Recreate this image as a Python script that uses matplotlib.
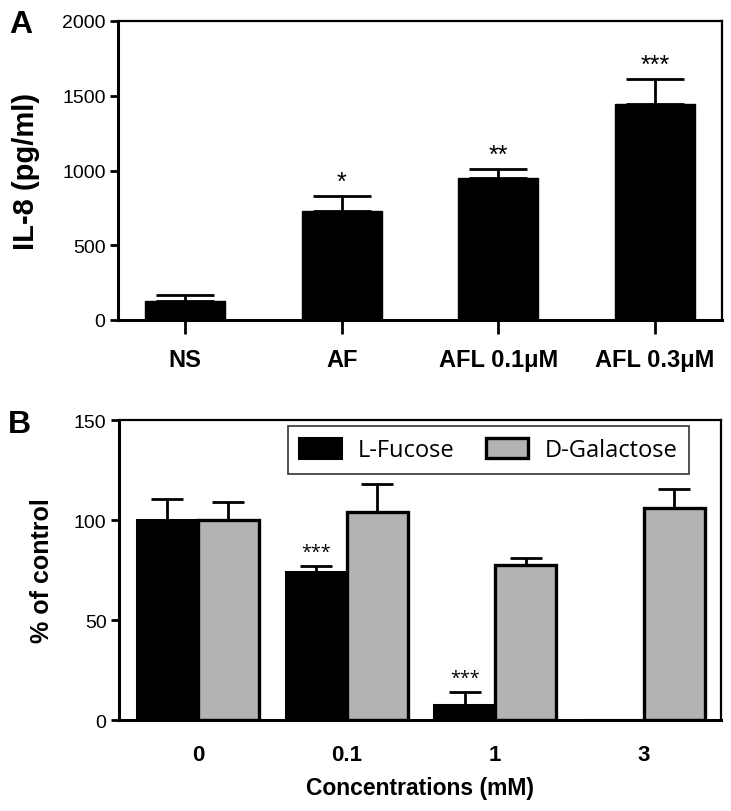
import numpy as np
import matplotlib
matplotlib.use('Agg')
import matplotlib.pyplot as plt

plt.rcParams['font.family'] = ['Liberation Sans', 'DejaVu Sans']

# Panel A data
groups_a = ['NS', 'AF', 'AFL 0.1μM', 'AFL 0.3μM']
il8_mean = [127, 729, 950, 1445]
il8_err = [40, 100, 60, 167]
stars_a = ['', '*', '**', '***']

# Panel B data
conc_labels = ['0', '0.1', '1', '3']
fucose_mean = [100, 73.8, 7.5, 0]
fucose_err = [10.5, 3, 6.3, 0]
galactose_mean = [100, 103.8, 77.7, 105.8]
galactose_err = [9, 14, 3.2, 9.7]
stars_b = ['', '***', '***', '']

GRAY = '#b3b3b3'

fig = plt.figure(figsize=(7.31, 8.12), dpi=100)

# ---- Panel A ----
axA = fig.add_axes([118 / 731, 1 - 321 / 812, 604 / 731, 299 / 812])
x = np.arange(len(groups_a))
axA.bar(x, il8_mean, width=0.51, color='black', edgecolor='black', zorder=2)
axA.errorbar(x, il8_mean, yerr=[np.zeros(len(x)), il8_err], fmt='none',
             ecolor='black', elinewidth=2, capsize=21, capthick=2, zorder=1)
for xi, m, e, s in zip(x, il8_mean, il8_err, stars_a):
    if s:
        axA.annotate(s, xy=(xi, m + e), xytext=(0, 5), textcoords='offset points',
                     ha='center', va='baseline', fontsize=18)
axA.set_xlim(-0.4276, 3.4276)
axA.set_ylim(0, 2000)
axA.set_yticks([0, 500, 1000, 1500, 2000])
axA.set_xticks(x)
axA.set_xticklabels(groups_a, fontsize=17, fontweight='bold')
axA.tick_params(axis='y', labelsize=14, length=6, width=2, pad=3)
axA.tick_params(axis='x', length=10, width=2, pad=10)
axA.set_ylabel('IL-8 (pg/ml)', fontsize=21, fontweight='bold', labelpad=16)
for side in ['left', 'bottom']:
    axA.spines[side].set_linewidth(2.2)
for side in ['top', 'right']:
    axA.spines[side].set_linewidth(1.6)
fig.text(9 / 731, 1 - 33 / 812, 'A', fontsize=23, fontweight='bold')

# ---- Panel B ----
axB = fig.add_axes([119 / 731, 1 - 721 / 812, 602 / 731, 300 / 812])
xb = np.arange(len(conc_labels))
w = 0.41
pos_f = xb - w / 2
pos_g = xb + w / 2
axB.bar(pos_f, fucose_mean, width=w, color='black', edgecolor='black',
        linewidth=2.2, label='L-Fucose', zorder=2)
axB.bar(pos_g, galactose_mean, width=w, color=GRAY, edgecolor='black',
        linewidth=2.4, label='D-Galactose', zorder=2)
for p, m, e in zip(list(pos_f) + list(pos_g), fucose_mean + galactose_mean,
                   fucose_err + galactose_err):
    if e > 0:
        axB.errorbar(p, m, yerr=[[0], [e]], fmt='none', ecolor='black',
                     elinewidth=2, capsize=11.5, capthick=2, zorder=1)
for p, m, e, s in zip(pos_f, fucose_mean, fucose_err, stars_b):
    if s:
        axB.annotate(s, xy=(p, m + e), xytext=(0, 7), textcoords='offset points',
                     ha='center', va='baseline', fontsize=13, family='Open Sans')
axB.set_xlim(-0.531, 3.518)
axB.set_ylim(0, 150)
axB.set_yticks([0, 50, 100, 150])
axB.set_xticks(xb)
axB.set_xticklabels(conc_labels, fontsize=16, fontweight='bold')
axB.tick_params(axis='y', labelsize=14, length=6, width=2, pad=3)
axB.tick_params(axis='x', length=0, pad=17)
axB.set_ylabel('% of control', fontsize=18, fontweight='bold', labelpad=14)
axB.set_xlabel('Concentrations (mM)', fontsize=16.5, fontweight='bold', labelpad=8)
for side in ['left', 'bottom']:
    axB.spines[side].set_linewidth(2.2)
for side in ['top', 'right']:
    axB.spines[side].set_linewidth(1.6)
leg = axB.legend(loc='upper right', bbox_to_anchor=(0.947, 0.98), ncol=2,
                 frameon=True, fancybox=False, edgecolor='black',
                 prop={'family': 'Open Sans', 'size': 17},
                 handlelength=1.78, handleheight=0.95, columnspacing=1.36,
                 borderpad=0.5, handletextpad=0.68, borderaxespad=0)
leg.get_frame().set_linewidth(1.2)
fig.text(8 / 731, 1 - 433 / 812, 'B', fontsize=23, fontweight='bold')

fig.savefig('out.png', dpi=100)
